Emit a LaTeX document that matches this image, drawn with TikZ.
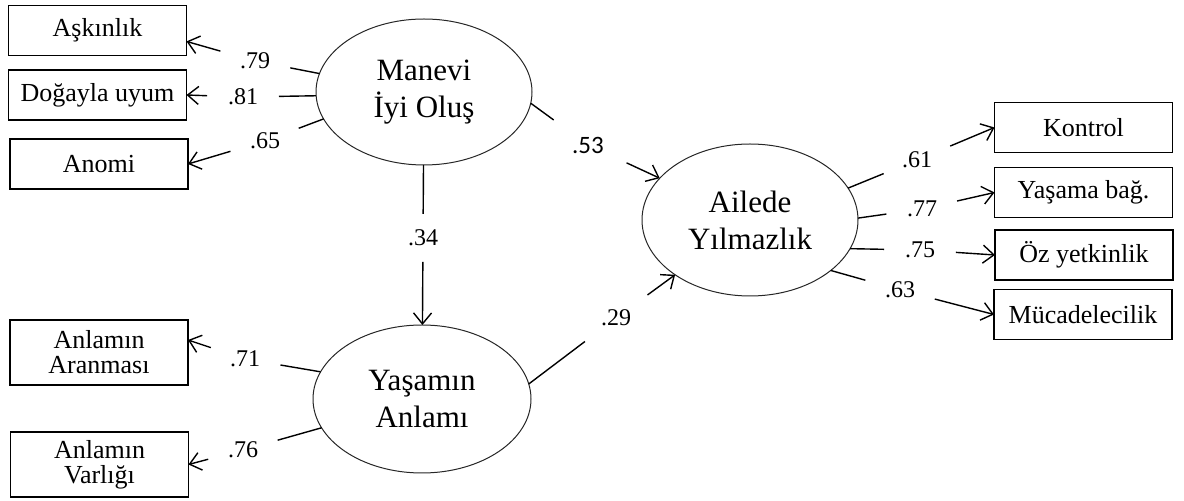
\documentclass[tikz,border=0pt]{standalone}
\usepackage{fontspec}
\setmainfont{Liberation Serif}
\newfontfamily\calibrifont{Carlito}
\usetikzlibrary{arrows.meta, shapes.geometric}

\begin{document}
\begin{tikzpicture}[% styles used in image code
           x = 0.5pt, y = -0.5pt,
           > = {Straight Barb[length=5.5pt, width=9pt]}, % defined in "arrows.meta"
 obs/.style = {draw, line width=0.7pt,
               minimum width=89pt, minimum height=25pt,
               inner sep=0pt, outer sep=0pt, align=center,
               font=\fontsize{13}{12.5}\selectfont},
 lat/.style = {ellipse, draw=black!85, line width=0.5pt,
               minimum width=108pt, minimum height=73pt,
               inner sep=0pt, outer sep=0pt, align=center,
               font=\fontsize{15.5}{18.5}\selectfont},
coef/.style = {circle, minimum size=#1,
               inner sep=0pt, outer sep=0pt,
               font=\fontsize{12}{12}\selectfont},
coef/.default = 36pt,
link/.style = {line width=0.7pt}
                        ]
	\useasboundingbox (0,0) rectangle (1184,501);

	% latent variables
	\node[lat] (mio) at (424,92) {Manevi\\İyi Oluş};
	\node[lat, minimum width=109pt, minimum height=74pt] (yas) at (422,399) {Yaşamın\\Anlamı};
	\node[lat, minimum height=76pt] (ail) at (750,220) {Ailede\\Yılmazlık};

	% observed variables
	\node[obs] (ask) at (97.5,30.5) {Aşkınlık};
	\node[obs] (dog) at (97.5,95) {Doğayla uyum};
	\node[obs] (ano) at (99,164) {Anomi};
	\node[obs, minimum height=32.5pt] (aran) at (99,352.5) {Anlamın\\Aranması};
	\node[obs, minimum height=32.5pt] (varl) at (99.5,464.5) {Anlamın\\Varlığı};
	\node[obs] (kon)  at (1083.5,127.5) {Kontrol};
	\node[obs] (yasb) at (1083.5,192.5) {Yaşama bağ.};
	\node[obs] (oz)   at (1084,255) {Öz yetkinlik};
	\node[obs] (muc)  at (1083,314.5) {Mücadelecilik};

	% coefficients
	\node[coef] (l79) at (255,61)  {.79};
	\node[coef] (l81) at (243,97)  {.81};
	\node[coef] (l65) at (265,141) {.65};
	\node[coef] (l71) at (245,359) {.71};
	\node[coef] (l76) at (243,450) {.76};
	\node[coef] (l61) at (917,160) {.61};
	\node[coef] (l77) at (922,209) {.77};
	\node[coef] (l75) at (920,250) {.75};
	\node[coef] (l63) at (900,290) {.63};
	\node[coef=42.5pt, font=\calibrifont\fontsize{12.5}{13}\selectfont] (l53) at (588,145) {.53};
	\node[coef=39pt] (l29) at (616,318) {.29};
	\node[coef=24pt] (l34) at (423,238) {.34};

	% loadings
	\draw[link] (mio.170) -- (l79);  \draw[link, ->] (l79) -- (ask.-7);
	\draw[link] (mio.182) -- (l81);  \draw[link, ->] (l81) -- (dog.east);
	\draw[link] (mio.195) -- (l65);  \draw[link, ->] (l65) -- (ano.east);
	\draw[link] (yas.165) -- (l71);  \draw[link, ->] (l71) -- (aran.8);
	\draw[link] (yas.196) -- (l76);  \draw[link, ->] (l76) -- (varl.east);
	\draw[link] (ail.18)  -- (l61);  \draw[link, ->] (l61) -- (kon.west);
	\draw[link] (ail.1)   -- (l77);  \draw[link, ->] (l77) -- (yasb.west);
	\draw[link] (ail.-16) -- (l75);  \draw[link, ->] (l75) -- (oz.west);
	\draw[link] (ail.-32) -- (l63);  \draw[link, ->] (l63) -- (muc.west);

	% paths between latent variables
	\draw[link] (mio.-6) -- (l53);   \draw[link, ->] (l53) -- (ail);
	\draw[link] (yas.8)  -- (l29);   \draw[link, ->] (l29) -- (ail);
	\draw[link] (mio)    -- (l34);   \draw[link, ->] (l34) -- (yas);
\end{tikzpicture}
\end{document}
